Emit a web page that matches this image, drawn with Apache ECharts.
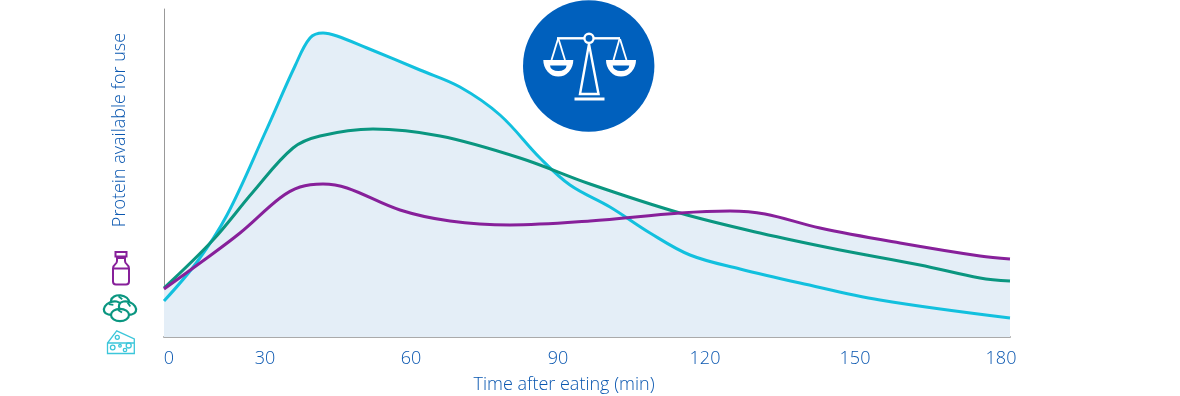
<!DOCTYPE html>
<html><head><meta charset="utf-8">
<style>html,body{margin:0;padding:0;background:#fff}#c{width:1180px;height:396px}</style>
<script src="https://cdn.jsdelivr.net/npm/echarts@6/dist/echarts.min.js"></script>
</head><body><div id="c"></div>
<script>
// x values are positions along the drawn axis (its labels are not evenly spaced), y is relative height
const tickPositions = [5, 101, 247, 394, 541, 691, 837];
const tickLabels = ['0', '30', '60', '90', '120', '150', '180'];
const cheeseX = [0,33,63,101,131,146,159,173,203,256,296,336,376,406,446,486,526,576,636,716,846];
const cheeseY = [36,75,122,204,271,299,304,301,289,267,250,222,179,152,130,104,82,68,54,37,19];
const beansX = [0,49,89,129,156,209,276,356,426,516,596,676,756,816,846];
const beansY = [49,97,145,189,201,208,201,179,153,124,104,87,72,59,56];
const milkX = [0,36,76,116,136,159,183,236,286,346,426,516,566,601,656,736,816,846];
const milkY = [48,74,104,139,150,153,149,127,116,112,116,124,126,123,109,94,81,78];

const seriesDefs = [
  {name:'Cheese', xs:cheeseX, ys:cheeseY, color:'#12c0de'},
  {name:'Beans',  xs:beansX,  ys:beansY,  color:'#0a9680'},
  {name:'Milk',   xs:milkX,   ys:milkY,   color:'#87209a'}
];
const pairs = d => d.xs.map((x,i)=>[x,d.ys[i]]);
const text = '#0a57b0', scale = '#0060bd';
const areas = seriesDefs.map(d=>({
  type:'line', name:d.name+' area', data:pairs(d), smooth:0.36, symbol:'none', silent:true, z:1,
  lineStyle:{width:0}, areaStyle:{color:'#e4eef7',opacity:1}
}));
const lines = seriesDefs.map(d=>({
  type:'line', name:d.name, data:pairs(d), smooth:0.36, symbol:'none', z:3,
  lineStyle:{width:3,color:d.color}
}));
let pathCount = 0;
const P = (d,style,z) => {
  const t = 'iconPath'+(pathCount++);
  echarts.graphic.registerShape(t, echarts.graphic.extendPath(d,{}));
  return {type:t,style,z:z||10};
};
const L = (x1,y1,x2,y2,w) => ({type:'line',shape:{x1,y1,x2,y2},style:{stroke:'#fff',lineWidth:w||2.4},z:11});
const purple={stroke:'#87209a',lineWidth:2,fill:'none'}, green={stroke:'#0a9680',lineWidth:2.2,fill:'#fff'}, cyan={stroke:'#3cc6da',lineWidth:1.3,fill:'none'};
const bean = (cx,cy,rot) => ({type:'group',x:cx,y:cy,rotation:rot,z:10,children:[
  {type:'ellipse',shape:{cx:0,cy:0,rx:9,ry:6.2},style:green,z:10},
  {type:'line',shape:{x1:-2,y1:-5,x2:2,y2:-2.5},style:{stroke:'#0a9680',lineWidth:1.8},z:10}
]});
const hole = (cx,cy,r) => ({type:'circle',shape:{cx,cy,r},style:cyan,z:11});
const font = '300 18px "Open Sans"';
const graphic = [
  {type:'circle',shape:{cx:588.7,cy:66,r:65.7},style:{fill:scale},z:9},
  L(557,38.3,584,38.3), L(594,38.3,620,38.3),
  {type:'circle',shape:{cx:589,cy:38.3,r:4.6},style:{fill:scale,stroke:'#fff',lineWidth:2.4},z:12},
  L(558,39,551.5,60,1.8), L(558.5,39,565,60,1.8), L(619.5,39,613.5,60,1.8), L(620,39,626.5,60,1.8),
  {type:'polygon',shape:{points:[[589,44],[580,94],[598.5,94]]},style:{fill:'none',stroke:'#fff',lineWidth:2.4},z:11},
  L(574.5,99,604.5,99,3),
  P('M543.3 60 h30 a15 16.5 0 0 1 -30 0 z M606 60 h30 a15 16.5 0 0 1 -30 0 z',{fill:'#fff'},11),
  P('M550 65.6 h16.6 a8.3 5.4 0 0 1 -16.6 0 z M612.7 65.6 h16.6 a8.3 5.4 0 0 1 -16.6 0 z',{fill:scale},12),
  P('M115.5 252 h11 v4.5 h-11 z M117 258 h8 v3 q0 2 2 3.5 q2 1.5 2 4 v13 q0 3 -3 3 h-10 q-3 0 -3 -3 v-13 q0 -2.5 2 -4 q2 -1.5 2 -3.5 z M113 268.5 h16',purple),
  bean(120,301.5,-0.1), bean(112.5,308,0.4), bean(127.5,308,-0.4), bean(120,315,0),
  P('M116.7 330.8 L107.5 343 V353.5 H134.3 V339 Z M107.5 343 H134.3 M116.7 330.8 L134.3 339',{stroke:'#3cc6da',lineWidth:1.3,fill:'#fff'}),
  hole(112.7,347.5,2.3), hole(120,345.8,1.3), hole(128.7,345.5,2.5), hole(125,350,1.7), hole(117.3,337.3,2),
  {type:'text',x:120,y:130,rotation:Math.PI/2,style:{text:'Protein available for use',fill:text,font,align:'center',verticalAlign:'middle'},z:10},
  {type:'text',x:564,y:385,style:{text:'Time after eating (min)',fill:text,font,align:'center',verticalAlign:'middle'},z:10}
];
const chart = echarts.init(document.getElementById('c'),null,{renderer:'canvas'});
chart.setOption({
  animation:false,
  grid:{left:164,right:170,top:9,bottom:59,containLabel:false},
  xAxis:{type:'value',min:0,max:846,
    axisLine:{show:true,onZero:false,lineStyle:{color:'#aaa',width:2}},
    axisTick:{show:false},splitLine:{show:false},
    axisLabel:{customValues:tickPositions,formatter:v=>tickLabels[tickPositions.indexOf(v)],
      color:text,fontFamily:'Open Sans',fontWeight:300,fontSize:18,margin:13,showMinLabel:true,showMaxLabel:true,hideOverlap:false}
  },
  yAxis:{type:'value',min:0,max:328,
    axisLine:{show:true,lineStyle:{color:'#999',width:1}},
    axisTick:{show:false},splitLine:{show:false},axisLabel:{show:false}},
  series:[...areas,...lines],
  graphic
});
</script></body></html>
